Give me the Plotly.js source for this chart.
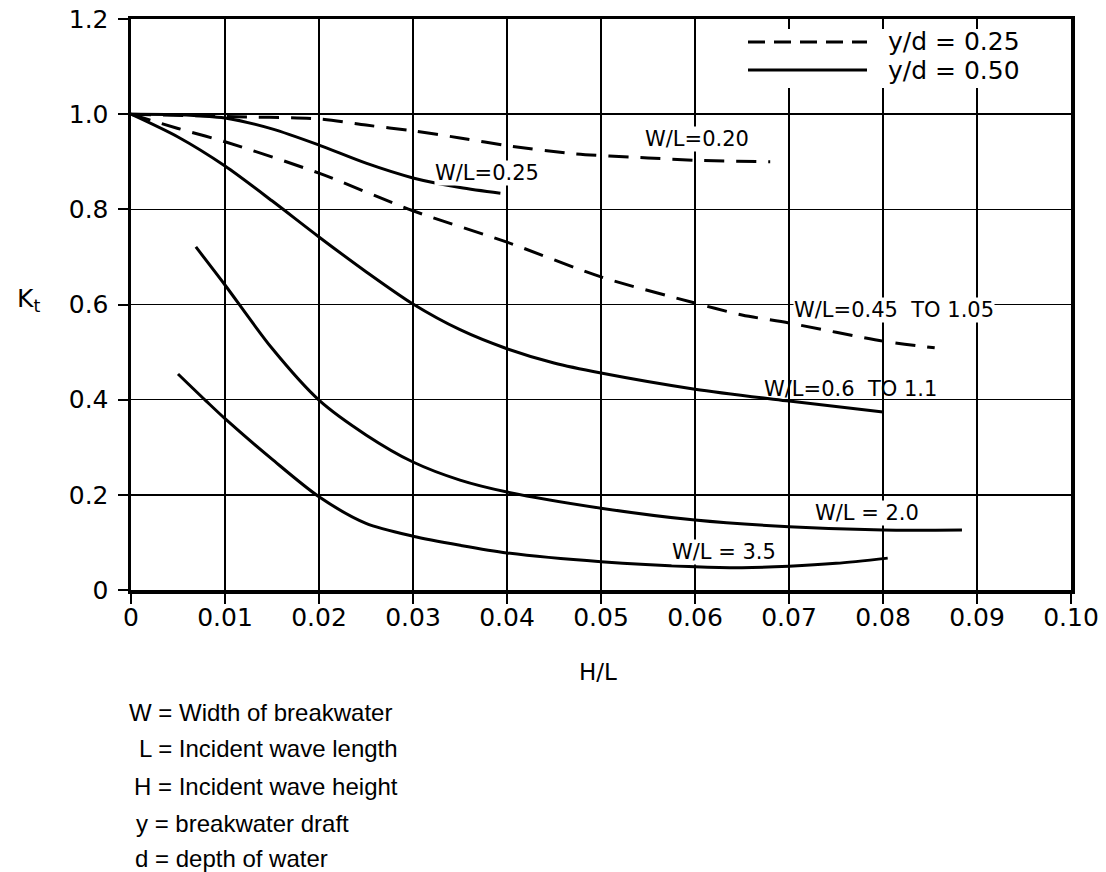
<!DOCTYPE html>
<html>
<head>
<meta charset="utf-8">
<script src="https://cdn.plot.ly/plotly-3.0.1.min.js"></script>
<style>html,body{margin:0;padding:0;background:#fff;}#chart{width:1106px;height:872px;}</style>
</head>
<body>
<div id="chart"></div>
<script>
// ---- Data ----
// y/d = 0.25 (dashed)
const wl020_x = [0, 0.01, 0.02, 0.025, 0.03, 0.035, 0.04, 0.047, 0.055, 0.06, 0.068];
const wl020_y = [1.0, 0.995, 0.99, 0.977, 0.965, 0.95, 0.934, 0.917, 0.908, 0.903, 0.90];
const wl045_x = [0, 0.005, 0.01, 0.02, 0.03, 0.04, 0.05, 0.06, 0.065, 0.07, 0.08, 0.0855];
const wl045_y = [1.0, 0.97, 0.942, 0.876, 0.797, 0.731, 0.658, 0.603, 0.578, 0.561, 0.523, 0.509];
// y/d = 0.50 (solid)
const wl025_x = [0, 0.005, 0.01, 0.015, 0.02, 0.025, 0.03, 0.035, 0.0393];
const wl025_y = [1.0, 0.999, 0.992, 0.969, 0.935, 0.897, 0.866, 0.846, 0.834];
const wl06_x = [0, 0.005, 0.01, 0.015, 0.02, 0.025, 0.03, 0.035, 0.04, 0.045, 0.05, 0.06, 0.07, 0.08];
const wl06_y = [1.0, 0.952, 0.891, 0.818, 0.742, 0.669, 0.601, 0.547, 0.507, 0.477, 0.456, 0.422, 0.397, 0.374];
const wl20_x = [0.0069, 0.01, 0.015, 0.02, 0.025, 0.03, 0.035, 0.04, 0.05, 0.06, 0.07, 0.08, 0.0884];
const wl20_y = [0.721, 0.641, 0.508, 0.399, 0.326, 0.269, 0.231, 0.206, 0.172, 0.147, 0.133, 0.126, 0.126];
const wl35_x = [0.005, 0.008, 0.01, 0.015, 0.02, 0.025, 0.03, 0.035, 0.04, 0.05, 0.06, 0.065, 0.07, 0.075, 0.0805];
const wl35_y = [0.454, 0.397, 0.36, 0.275, 0.196, 0.14, 0.113, 0.094, 0.078, 0.0595, 0.049, 0.047, 0.05, 0.056, 0.067];

// curve labels
const labelText = ["W/L=0.20", "W/L=0.25", "W/L=0.45  TO 1.05", "W/L=0.6  TO 1.1", "W/L = 2.0", "W/L = 3.5"];
const labelX = [0.0602, 0.0379, 0.0812, 0.0765, 0.0783, 0.0631];
const labelY = [0.948, 0.876, 0.588, 0.422, 0.161, 0.080];
const labelBg = [true, true, true, false, true, true];

// axis ticks
const xTickVals = [0, 0.01, 0.02, 0.03, 0.04, 0.05, 0.06, 0.07, 0.08, 0.09, 0.10];
const xTickText = ["0", "0.01", "0.02", "0.03", "0.04", "0.05", "0.06", "0.07", "0.08", "0.09", "0.10"];
const yTickVals = [0, 0.2, 0.4, 0.6, 0.8, 1.0, 1.2];
const yTickText = ["0", "0.2", "0.4", "0.6", "0.8", "1.0", "1.2"];

// legend & notes
const legendText = ["y/d = 0.25", "y/d = 0.50"];
const notesText = ["W = Width of breakwater", "L = Incident wave length", "H = Incident wave height", "y = breakwater draft", "d = depth of water"];

// ---- Plot ----
const DASH = "20px,12px";
function curve(x, y, dashed) {
  return {x: x, y: y, type: "scatter", mode: "lines",
    line: {color: "#000", width: 3, dash: dashed ? DASH : "solid", shape: "spline", smoothing: 0.8},
    showlegend: false, hoverinfo: "skip"};
}
const traces = [
  curve(wl020_x, wl020_y, true),
  curve(wl045_x, wl045_y, true),
  curve(wl025_x, wl025_y, false),
  curve(wl06_x, wl06_y, false),
  curve(wl20_x, wl20_y, false),
  curve(wl35_x, wl35_y, false)
];

const W = 1106, H = 872;
const M = {l: 131, r: 35, t: 19, b: 282};
const PW = W - M.l - M.r, PH = H - M.t - M.b;
const px2paperX = px => (px - M.l) / PW;
const px2paperY = py => (H - M.b - py) / PH;

const labelFont = {family: "DejaVu Sans", size: 21, color: "#000"};
const annotations = labelText.map((t, i) => ({
  x: labelX[i], y: labelY[i], xref: "x", yref: "y", text: t, showarrow: false,
  font: labelFont, xanchor: "center", yanchor: "middle",
  bgcolor: labelBg[i] ? "#fff" : "rgba(0,0,0,0)", borderpad: 0
}));

// legend texts
const legYpx = [42, 70];
legendText.forEach((t, i) => annotations.push({
  x: px2paperX(886), y: px2paperY(legYpx[i]), xref: "paper", yref: "paper", text: t,
  showarrow: false, xanchor: "left", yanchor: "middle",
  font: {family: "DejaVu Sans", size: 25, color: "#000"}
}));

// K_t label
annotations.push({x: px2paperX(15), y: px2paperY(300), xref: "paper", yref: "paper",
  text: "K<sub>t</sub>", showarrow: false, xanchor: "left", yanchor: "middle",
  font: {family: "DejaVu Sans", size: 25, color: "#000"}});
// H/L label
annotations.push({x: px2paperX(598), y: px2paperY(672), xref: "paper", yref: "paper",
  text: "H/L", showarrow: false, xanchor: "center", yanchor: "middle",
  font: {family: "DejaVu Sans", size: 23, color: "#000"}});
// notes
const noteXpx = [127, 137, 132, 134, 133];
const noteYpx = [712, 748, 786, 823, 858];
notesText.forEach((t, i) => annotations.push({
  x: px2paperX(noteXpx[i]), y: px2paperY(noteYpx[i]), xref: "paper", yref: "paper", text: t,
  showarrow: false, xanchor: "left", yanchor: "middle",
  font: {family: "Liberation Sans", size: 24, color: "#000"}
}));

const shapes = [
  // white area behind the legend (interrupts grid lines)
  {type: "rect", xref: "paper", yref: "paper", x0: px2paperX(740), x1: px2paperX(1062),
   y0: px2paperY(88), y1: px2paperY(29), fillcolor: "#fff", line: {width: 0}, layer: "above"},
  {type: "line", xref: "paper", yref: "paper", x0: px2paperX(748), x1: px2paperX(867),
   y0: px2paperY(legYpx[0]), y1: px2paperY(legYpx[0]), line: {color: "#000", width: 3, dash: "17px,9px"}, layer: "above"},
  {type: "line", xref: "paper", yref: "paper", x0: px2paperX(748), x1: px2paperX(867),
   y0: px2paperY(legYpx[1]), y1: px2paperY(legYpx[1]), line: {color: "#000", width: 3}, layer: "above"}
];

const tickFont = {family: "DejaVu Sans", size: 25, color: "#000"};
const layout = {
  width: W, height: H, margin: M,
  paper_bgcolor: "#fff", plot_bgcolor: "#fff",
  showlegend: false,
  xaxis: {range: [0, 0.10], tickvals: xTickVals, ticktext: xTickText, tickfont: tickFont,
    showgrid: true, gridcolor: "#000", gridwidth: 1.5, zeroline: false,
    showline: true, linecolor: "#000", linewidth: 3.5, mirror: true,
    ticks: "outside", ticklen: 10, tickwidth: 2, tickcolor: "#000", ticklabelstandoff: -8,
    fixedrange: true},
  yaxis: {range: [0, 1.2], tickvals: yTickVals, ticktext: yTickText, tickfont: tickFont,
    showgrid: true, gridcolor: "#000", gridwidth: 1.5, zeroline: false,
    showline: true, linecolor: "#000", linewidth: 3.5, mirror: true,
    ticks: "outside", ticklen: 10, tickwidth: 2, tickcolor: "#000", ticklabelstandoff: 4,
    fixedrange: true},
  annotations: annotations,
  shapes: shapes
};

Plotly.newPlot("chart", traces, layout, {displayModeBar: false, staticPlot: true});
</script>
</body>
</html>
